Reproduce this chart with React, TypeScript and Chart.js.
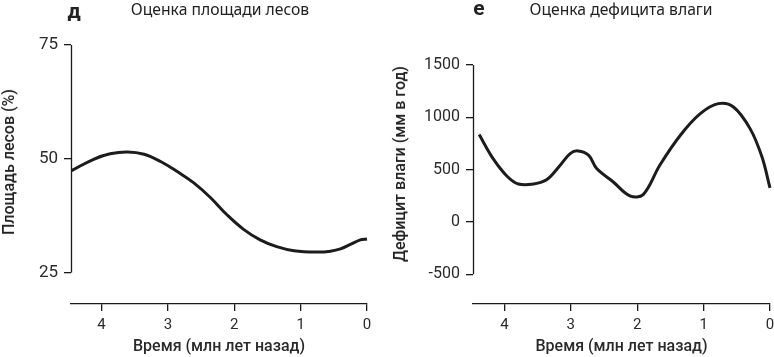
import React, { useEffect, useRef } from "react";
import { Chart, registerables } from "chart.js";

Chart.register(...registerables);

// Panel д: forest area estimate
const forestAge = [0.0, 0.1, 0.25, 0.4, 0.55, 0.75, 1.1, 1.36, 1.61, 1.86, 2.11, 2.36, 2.61, 2.86, 3.11, 3.36, 3.61, 3.87, 4.12, 4.45];
const forestArea = [32.4, 32.2, 31.2, 30.2, 29.7, 29.5, 29.8, 30.7, 32.2, 34.5, 37.7, 41.5, 44.7, 47.2, 49.4, 51.0, 51.5, 51.1, 49.9, 47.4];
const forestTicks = [25, 50, 75];

// Panel е: moisture deficit estimate
const deficitAge = [0.0, 0.12, 0.3, 0.55, 0.78, 1.05, 1.35, 1.66, 1.91, 2.11, 2.36, 2.61, 2.73, 2.89, 3.01, 3.16, 3.36, 3.56, 3.79, 3.96, 4.17, 4.38];
const deficitMm = [325, 620, 892, 1099, 1131, 1035, 829, 542, 261, 249, 382, 510, 637, 679, 653, 542, 405, 363, 363, 437, 605, 835];
const deficitTicks = [-500, 0, 500, 1000, 1500];

const ageTicks = [0, 1, 2, 3, 4];
const xTitle = "Время (млн лет назад)";

type PanelProps = {
  xs: number[];
  ys: number[];
  yTicks: number[];
  yMin: number;
  yMax: number;
  xMax: number;
  yScaleWidth: number;
  padTop: number;
  padRight: number;
  yTickFont: number;
  tension: number;
};

function Panel(p: PanelProps) {
  const ref = useRef<HTMLCanvasElement>(null);
  useEffect(() => {
    if (!ref.current) return;
    const axisLine = {
      id: "axisLine",
      afterDraw(chart: any) {
        const y = chart.scales.y;
        const ctx = chart.ctx;
        const x = Math.round(chart.chartArea.left) + 0.5;
        ctx.save();
        ctx.strokeStyle = "#1a1a1a";
        ctx.lineWidth = 1.3;
        ctx.beginPath();
        ctx.moveTo(x, y.getPixelForValue(p.yTicks[p.yTicks.length - 1]));
        ctx.lineTo(x, y.getPixelForValue(p.yTicks[0]));
        ctx.stroke();
        ctx.restore();
      },
    };
    const data = p.xs.map((x, i) => ({ x, y: p.ys[i] }));
    const chart = new Chart(ref.current, {
      type: "line",
      data: {
        datasets: [
          {
            data,
            borderColor: "#1c1c1c",
            borderWidth: 3,
            pointRadius: 0,
            tension: p.tension,
            fill: false,
            clip: false as any,
          },
        ],
      },
      options: {
        animation: false,
        responsive: false,
        events: [],
        layout: { padding: { top: p.padTop, right: p.padRight, left: 0, bottom: 0 } },
        plugins: { legend: { display: false }, tooltip: { enabled: false } },
        scales: {
          x: {
            type: "linear",
            reverse: true,
            min: 0,
            max: p.xMax,
            afterBuildTicks: (s: any) => {
              s.ticks = ageTicks.map((v) => ({ value: v }));
            },
            afterFit: (s: any) => {
              s.height = 53;
            },
            ticks: {
              padding: 5,
              color: "#2a2a2a",
              font: { family: "Roboto", size: 15 },
              maxRotation: 0,
              callback: (v: any) => String(v),
            },
            grid: {
              display: true,
              drawOnChartArea: false,
              drawTicks: true,
              tickLength: 7,
              color: "#1a1a1a",
              lineWidth: 1.3,
            },
            border: { display: true, color: "#1a1a1a", width: 1.3 },
            title: {
              display: true,
              text: xTitle,
              color: "#2a2a2a",
              font: { family: "Roboto", size: 16, weight: "500" },
              padding: 0,
            },
          },
          y: {
            type: "linear",
            min: p.yMin,
            max: p.yMax,
            afterBuildTicks: (s: any) => {
              s.ticks = p.yTicks.map((v) => ({ value: v }));
            },
            afterFit: (s: any) => {
              s.width = p.yScaleWidth;
            },
            ticks: {
              padding: 6,
              color: "#2a2a2a",
              font: { family: "Roboto", size: p.yTickFont },
              callback: (v: any) => String(v),
            },
            grid: {
              display: true,
              drawOnChartArea: false,
              drawTicks: true,
              tickLength: 7,
              color: "#1a1a1a",
              lineWidth: 1.3,
            },
            border: { display: false },
          },
        },
      },
      plugins: [axisLine],
    });
    return () => chart.destroy();
  }, []);
  return <canvas ref={ref} width={387} height={357} style={{ display: "block" }} />;
}

const abs = (x: number, y: number, extra: React.CSSProperties = {}): React.CSSProperties => ({
  position: "absolute",
  left: x,
  top: y,
  transform: "translate(-50%, -50%)",
  whiteSpace: "nowrap",
  color: "#222",
  lineHeight: 1,
  ...extra,
});

const rot = "translate(-50%, -50%) rotate(-90deg)";

export default function App() {
  return (
    <div
      style={{
        position: "fixed",
        left: 0,
        top: 0,
        width: 774,
        height: 357,
        background: "#fff",
        overflow: "hidden",
      }}
    >
      <div style={{ position: "absolute", left: 0, top: 0 }}>
        <Panel
          xs={forestAge}
          ys={forestArea}
          yTicks={forestTicks}
          yMin={18.1}
          yMax={75}
          xMax={4.46}
          yScaleWidth={71}
          padTop={45}
          padRight={20}
          yTickFont={17}
          tension={0.4}
        />
      </div>
      <div style={{ position: "absolute", left: 387, top: 0 }}>
        <Panel
          xs={deficitAge}
          ys={deficitMm}
          yTicks={deficitTicks}
          yMin={-784}
          yMax={1500}
          xMax={4.473}
          yScaleWidth={86}
          padTop={65}
          padRight={4}
          yTickFont={16}
          tension={0.35}
        />
      </div>
      <div style={abs(74, 11, { fontFamily: "Roboto", fontWeight: 700, fontSize: 21 })}>д</div>
      <div style={abs(220, 10, { fontFamily: "Noto Sans", fontSize: 15.7 })}>Оценка площади лесов</div>
      <div style={abs(479, 8, { fontFamily: "Roboto", fontWeight: 700, fontSize: 21 })}>е</div>
      <div style={abs(621, 10, { fontFamily: "Noto Sans", fontSize: 15.7 })}>Оценка дефицита влаги</div>
      <div style={abs(9, 162, { fontFamily: "Roboto", fontWeight: 500, fontSize: 16, transform: rot })}>
        Площадь лесов (%)
      </div>
      <div style={abs(400, 164, { fontFamily: "Roboto", fontWeight: 500, fontSize: 16, transform: rot })}>
        Дефицит влаги (мм в год)
      </div>
    </div>
  );
}
